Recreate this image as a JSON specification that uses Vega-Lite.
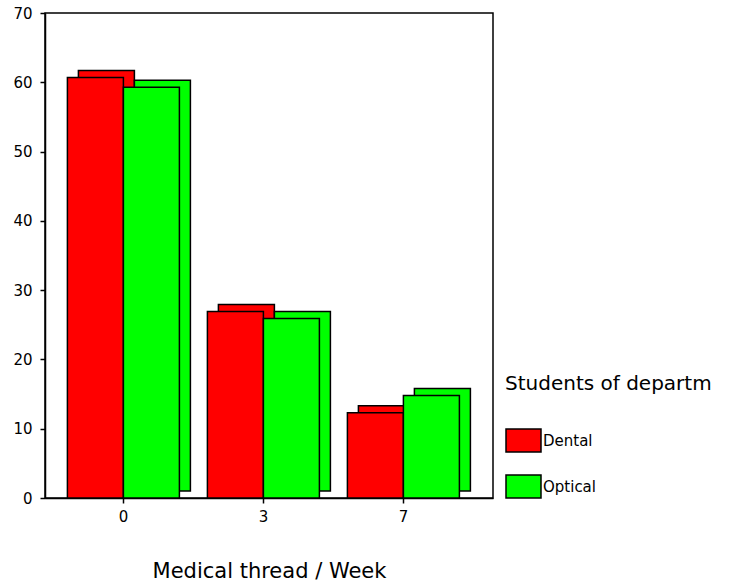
{
  "$schema": "https://vega.github.io/schema/vega-lite/v6.json",
  "width": 448,
  "height": 485,
  "autosize": {"type": "none"},
  "padding": {"left": 45, "top": 13, "right": 243, "bottom": 84},
  "background": "white",
  "config": {
    "font": "DejaVu Sans",
    "view": {"stroke": "black", "strokeWidth": 1.5},
    "axis": {
      "domainColor": "black",
      "domainWidth": 1.5,
      "tickColor": "black",
      "tickWidth": 1.5,
      "tickSize": 5,
      "labelColor": "black",
      "labelFont": "DejaVu Sans",
      "labelFontSize": 15,
      "titleColor": "black",
      "titleFont": "DejaVu Sans",
      "titleFontSize": 21,
      "titleFontWeight": "normal",
      "grid": false
    }
  },
  "data": {
    "values": [
      {"week": "0", "dept": "Dental", "value": 60.7},
      {"week": "0", "dept": "Optical", "value": 59.3},
      {"week": "3", "dept": "Dental", "value": 26.9},
      {"week": "3", "dept": "Optical", "value": 25.9},
      {"week": "7", "dept": "Dental", "value": 12.3},
      {"week": "7", "dept": "Optical", "value": 14.8}
    ]
  },
  "encoding": {
    "x": {
      "field": "week",
      "type": "nominal",
      "sort": ["0", "3", "7"],
      "scale": {"paddingInner": 0.2, "paddingOuter": 0.2, "align": 0.4},
      "axis": {"title": "Medical thread / Week", "labelAngle": 0, "labelPadding": 6, "titlePadding": 36}
    },
    "y": {
      "field": "value",
      "type": "quantitative",
      "scale": {"domain": [0, 70], "nice": false},
      "axis": {"title": null, "values": [0, 10, 20, 30, 40, 50, 60, 70], "labelPadding": 8}
    },
    "color": {
      "field": "dept",
      "type": "nominal",
      "scale": {"domain": ["Dental", "Optical"], "range": ["#ff0000", "#00ff00"]},
      "legend": {
        "title": "Students of departm",
        "orient": "none",
        "legendX": 460,
        "legendY": 361,
        "titleFont": "DejaVu Sans",
        "titleFontSize": 20,
        "titleFontWeight": "normal",
        "titleColor": "black",
        "titleLimit": 400,
        "titlePadding": 28,
        "labelFont": "DejaVu Sans",
        "labelFontSize": 15,
        "labelColor": "black",
        "labelOffset": 1,
        "symbolType": "M-1,-0.657L1,-0.657L1,0.657L-1,0.657Z",
        "symbolSize": 1225,
        "symbolStrokeColor": "black",
        "symbolStrokeWidth": 1.5,
        "symbolOpacity": 1,
        "rowPadding": 13
      }
    }
  },
  "layer": [
    {
      "mark": {"type": "bar", "yOffset": -7, "stroke": "black", "strokeWidth": 1.5, "opacity": 1},
      "encoding": {
        "xOffset": {"field": "dept", "type": "nominal", "sort": ["Dental", "Optical"], "scale": {"paddingInner": 0, "paddingOuter": 0, "range": [11, 123]}}
      }
    },
    {
      "mark": {"type": "bar", "stroke": "black", "strokeWidth": 1.5, "opacity": 1},
      "encoding": {
        "xOffset": {"field": "dept", "type": "nominal", "sort": ["Dental", "Optical"], "scale": {"paddingInner": 0, "paddingOuter": 0}}
      }
    }
  ],
  "resolve": {"scale": {"xOffset": "independent"}}
}
